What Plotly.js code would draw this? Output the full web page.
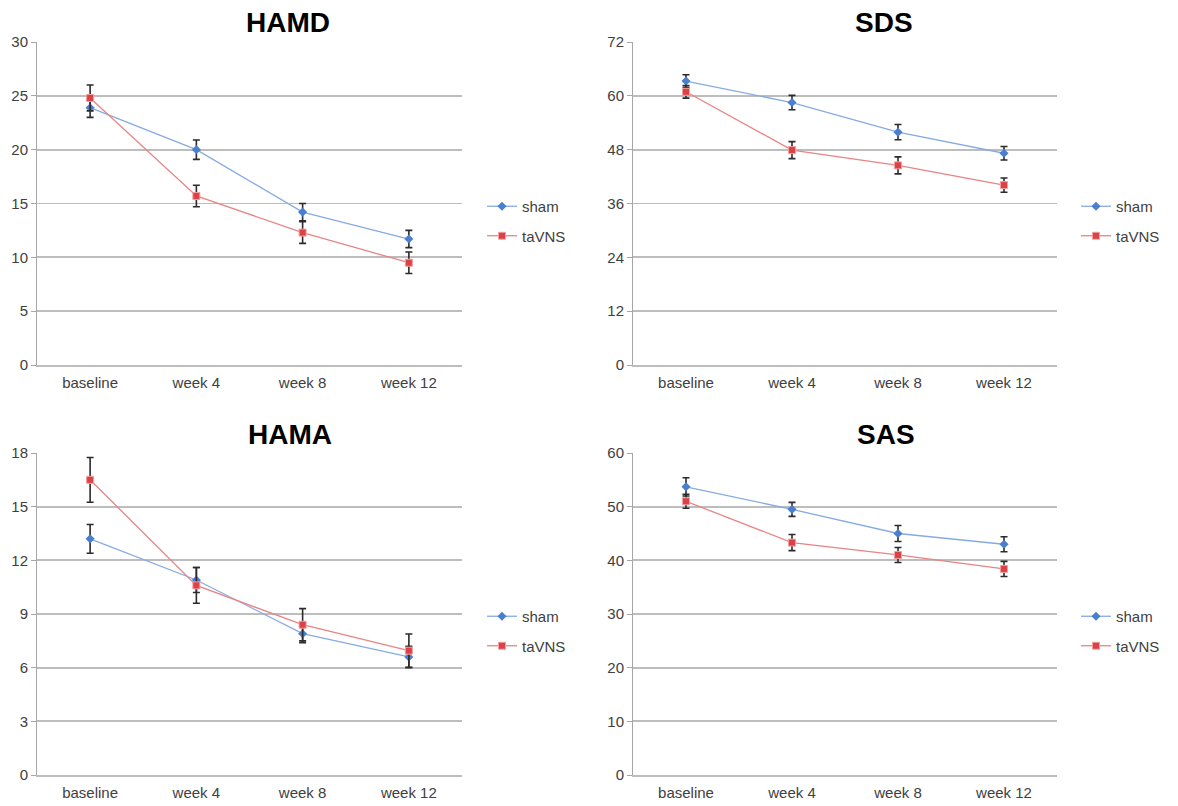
<!DOCTYPE html>
<html>
<head>
<meta charset="utf-8">
<script src="https://cdn.plot.ly/plotly-3.0.1.min.js"></script>
<style>html,body{margin:0;padding:0;background:#fff;}#chart{width:1178px;height:806px;}</style>
</head>
<body>
<div id="chart"></div>
<script>
const categories = ['baseline', 'week 4', 'week 8', 'week 12'];
const seriesNames = ['sham', 'taVNS'];
const panelTitles = ['HAMD', 'SDS', 'HAMA', 'SAS'];

const hamdSham = [23.9, 20.0, 14.2, 11.7];
const hamdShamErr = [0.9, 0.9, 0.8, 0.8];
const hamdTaVNS = [24.8, 15.7, 12.3, 9.5];
const hamdTaVNSErr = [1.2, 1.0, 1.0, 1.0];

const sdsSham = [63.3, 58.5, 51.9, 47.2];
const sdsShamErr = [1.4, 1.6, 1.7, 1.5];
const sdsTaVNS = [60.9, 47.9, 44.5, 40.1];
const sdsTaVNSErr = [1.4, 1.9, 1.9, 1.6];

const hamaSham = [13.2, 10.9, 7.9, 6.6];
const hamaShamErr = [0.8, 0.7, 0.5, 0.6];
const hamaTaVNS = [16.5, 10.6, 8.4, 6.95];
const hamaTaVNSErr = [1.25, 1.0, 0.9, 0.93];

const sasSham = [53.7, 49.5, 45.0, 43.0];
const sasShamErr = [1.7, 1.3, 1.5, 1.4];
const sasTaVNS = [51.0, 43.3, 41.0, 38.4];
const sasTaVNSErr = [1.3, 1.5, 1.4, 1.4];

const yMax = [30, 72, 18, 60];
const yStep = [5, 12, 3, 10];

const W = 1178, H = 806;
const panelData = [
  [hamdSham, hamdShamErr, hamdTaVNS, hamdTaVNSErr],
  [sdsSham, sdsShamErr, sdsTaVNS, sdsTaVNSErr],
  [hamaSham, hamaShamErr, hamaTaVNS, hamaTaVNSErr],
  [sasSham, sasShamErr, sasTaVNS, sasTaVNSErr]
];

// pixel geometry of plot areas
const xPix = [[37, 462], [633, 1057], [37, 462], [633, 1057]];
const yPix = [[42, 365], [42, 365], [453, 775], [453, 775]];
const titlePos = [[288, 23], [884, 23], [290, 434], [886, 434]];
const legendPos = [[482, 190], [1076, 190], [482, 600], [1076, 600]];

const shamLine = '#86abe2', shamMarker = '#4a7fd0';
const taLine = '#e88484', taMarker = '#dc4147';
const textColor = '#404040';
const fontFam = 'Liberation Sans, Arial, sans-serif';

const traces = [];
const layout = {
  width: W, height: H,
  margin: {l: 0, r: 0, t: 0, b: 0},
  paper_bgcolor: '#ffffff', plot_bgcolor: '#ffffff',
  font: {family: fontFam, color: textColor, size: 15},
  annotations: [],
  showlegend: true
};

for (let i = 0; i < 4; i++) {
  const n = i === 0 ? '' : String(i + 1);
  const xa = 'x' + n, ya = 'y' + n;
  const lg = 'legend' + n;
  const [s, se, t, te] = panelData[i];
  traces.push({
    x: categories, y: s, name: seriesNames[0], type: 'scatter', mode: 'lines+markers',
    xaxis: xa, yaxis: ya, legend: lg, legendgroup: 'a' + i,
    line: {color: shamLine, width: 1.3},
    marker: {symbol: 'diamond', size: 7, color: shamMarker, line: {width: 0}},
    error_y: {type: 'data', array: se, visible: true, color: '#2b2b2b', thickness: 1.6, width: 3.5}
  });
  traces.push({
    x: categories, y: t, name: seriesNames[1], type: 'scatter', mode: 'lines+markers',
    xaxis: xa, yaxis: ya, legend: lg, legendgroup: 'b' + i,
    line: {color: taLine, width: 1.3},
    marker: {symbol: 'square', size: 7, color: taMarker, line: {width: 1, color: '#f0a0a0'}},
    error_y: {type: 'data', array: te, visible: true, color: '#2b2b2b', thickness: 1.6, width: 3.5}
  });
  layout['xaxis' + n] = {
    domain: [xPix[i][0] / W, xPix[i][1] / W],
    anchor: ya, type: 'category', range: [-0.5, 3.5],
    showgrid: false, zeroline: false,
    showline: true, linecolor: '#bdbdbd', linewidth: 1.6,
    ticks: '', ticklabelstandoff: 3,
    tickfont: {size: 15, color: textColor, family: fontFam},
    fixedrange: true
  };
  layout['yaxis' + n] = {
    domain: [1 - yPix[i][1] / H, 1 - yPix[i][0] / H],
    anchor: xa, range: [0, yMax[i]], dtick: yStep[i], tick0: 0,
    showgrid: true, gridcolor: '#bdbdbd', gridwidth: 1.8,
    zeroline: false, showline: true, linecolor: '#a6a6a6', linewidth: 1,
    ticks: 'outside', ticklen: 5, tickcolor: '#a6a6a6', tickwidth: 1,
    tickfont: {size: 15, color: textColor, family: fontFam},
    fixedrange: true
  };
  layout[lg] = {
    x: legendPos[i][0] / W, y: 1 - legendPos[i][1] / H,
    xanchor: 'left', yanchor: 'top',
    bgcolor: 'rgba(0,0,0,0)', borderwidth: 0,
    traceorder: 'grouped', tracegroupgap: 7,
    font: {size: 15, color: textColor, family: fontFam}
  };
  layout.annotations.push({
    text: '<b>' + panelTitles[i] + '</b>', xref: 'paper', yref: 'paper',
    x: titlePos[i][0] / W, y: 1 - titlePos[i][1] / H,
    xanchor: 'center', yanchor: 'middle', showarrow: false,
    font: {size: 28, color: '#000000', family: fontFam}
  });
}

Plotly.newPlot('chart', traces, layout, {displayModeBar: false, staticPlot: true});
</script>
</body>
</html>
